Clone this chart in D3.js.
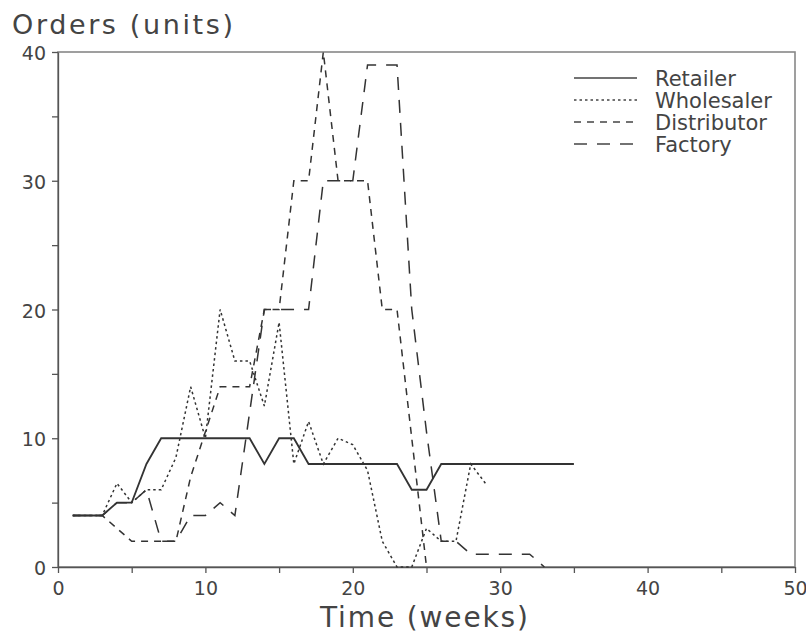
<!DOCTYPE html>
<html>
<head>
<meta charset="utf-8">
<script src="https://cdn.jsdelivr.net/npm/d3@7/dist/d3.min.js"></script>
<style>
    body { margin: 0; background: #fff; }
    text { font-family: "DejaVu Sans", sans-serif; fill: #444; }
    .axis path, .axis line { stroke: #555; stroke-width: 1.3; }
    .axis text { font-size: 19px; fill: #444; }
</style>
</head>
<body>
<svg id="chart" width="806" height="639"></svg>
<script>

// DATA (orders per week)
var weeks = [1, 2, 3, 4, 5, 6, 7, 8, 9, 10, 11, 12, 13, 14, 15, 16, 17, 18, 19, 20,
             21, 22, 23, 24, 25, 26, 27, 28, 29, 30, 31, 32, 33, 34, 35];

var retailer    = [4, 4, 4, 5, 5, 8, 10, 10, 10, 10, 10, 10, 10, 8, 10, 10, 8, 8, 8, 8,
                   8, 8, 8, 6, 6, 8, 8, 8, 8, 8, 8, 8, 8, 8, 8];
var wholesaler  = [4, 4, 4, 6.5, 5, 6, 6, 8.5, 14, 10, 20, 16, 16, 12.5, 19, 8, 11.3, 8, 10, 9.5,
                   7.5, 2, 0, 0, 3, 2, 2, 8, 6.5];
var distributor = [4, 4, 4, 3, 2, 2, 2, 2, 7, 10.5, 14, 14, 14, 20, 20, 30, 30, 40, 30, 30,
                   30, 20, 20, 10, 0];
var factory     = [4, 4, 4, 5, 5, 6, 2, 2, 4, 4, 5, 4, 12, 20, 20, 20, 20, 30, 30, 30,
                   39, 39, 39, 20, 10.5, 2, 2, 1, 1, 1, 1, 1, 0];

var seriesNames = ["Retailer", "Wholesaler", "Distributor", "Factory"];
var xTicks = [0, 5, 10, 15, 20, 25, 30, 35, 40, 45, 50];
var yTicks = [0, 5, 10, 15, 20, 25, 30, 35, 40];

// LAYOUT
var MARGIN_LEFT = 58, MARGIN_RIGHT = 795;
var MARGIN_TOP = 52, MARGIN_BOTTOM = 567;

var svg = d3.select("#chart");

var x = d3.scaleLinear().domain([0, 50]).range([MARGIN_LEFT, MARGIN_RIGHT]);
var y = d3.scaleLinear().domain([0, 40]).range([MARGIN_BOTTOM, MARGIN_TOP]);

// frame (top and right edges)
svg.append("rect")
    .attr("x", MARGIN_LEFT)
    .attr("y", MARGIN_TOP)
    .attr("width", MARGIN_RIGHT - MARGIN_LEFT)
    .attr("height", MARGIN_BOTTOM - MARGIN_TOP)
    .attr("fill", "none")
    .attr("stroke", "#888")
    .attr("stroke-width", 1.6);

var xAxis = d3.axisBottom(x)
    .tickValues(xTicks)
    .tickSize(6)
    .tickSizeOuter(0)
    .tickFormat(function(d){ return d % 10 == 0 ? d : ""; });

var yAxis = d3.axisLeft(y)
    .tickValues(yTicks)
    .tickSize(6)
    .tickSizeOuter(0)
    .tickFormat(function(d){ return d % 10 == 0 ? d : ""; });

var gx = svg.append("g")
    .attr("class", "axis")
    .attr("transform", "translate(0," + MARGIN_BOTTOM + ")")
    .call(xAxis);
gx.selectAll("text").attr("dy", "1.0em");

var gy = svg.append("g")
    .attr("class", "axis")
    .attr("transform", "translate(" + MARGIN_LEFT + ",0)")
    .call(yAxis);
gy.selectAll("text").attr("x", -12).attr("dy", "0.4em");

// axis titles
svg.append("text")
    .attr("x", 12)
    .attr("y", 34)
    .attr("textLength", 221)
    .attr("lengthAdjust", "spacing")
    .style("font-size", "27px")
    .text("Orders (units)");

svg.append("text")
    .attr("x", 320)
    .attr("y", 627)
    .attr("textLength", 208)
    .attr("lengthAdjust", "spacing")
    .style("font-size", "28px")
    .text("Time (weeks)");

// SERIES
var dashes = [null, "2.5,3", "7,6", "13,10"];
var allSeries = [retailer, wholesaler, distributor, factory];

var line = d3.line()
    .x(function(d, i){ return x(weeks[i]); })
    .y(function(d){ return y(d); });

svg.selectAll("path.series")
    .data(allSeries)
    .enter()
    .append("path")
    .attr("class", "series")
    .attr("d", line)
    .attr("fill", "none")
    .attr("stroke", "#333")
    .attr("stroke-width", function(d, i){ return i == 0 ? 1.8 : 1.5; })
    .attr("stroke-dasharray", function(d, i){ return dashes[i]; });

// LEGEND
var legend = svg.selectAll("g.legend")
    .data(seriesNames)
    .enter()
    .append("g")
    .attr("class", "legend")
    .attr("transform", function(d, i){ return "translate(574," + (78 + i * 22) + ")"; });

legend.append("line")
    .attr("x1", 0)
    .attr("x2", 63)
    .attr("stroke", "#444")
    .attr("stroke-width", 1.3)
    .attr("stroke-dasharray", function(d, i){ return dashes[i]; });

legend.append("text")
    .attr("x", 81)
    .attr("y", 8)
    .style("font-size", "21px")
    .text(function(d){ return d; });

</script>
</body>
</html>
